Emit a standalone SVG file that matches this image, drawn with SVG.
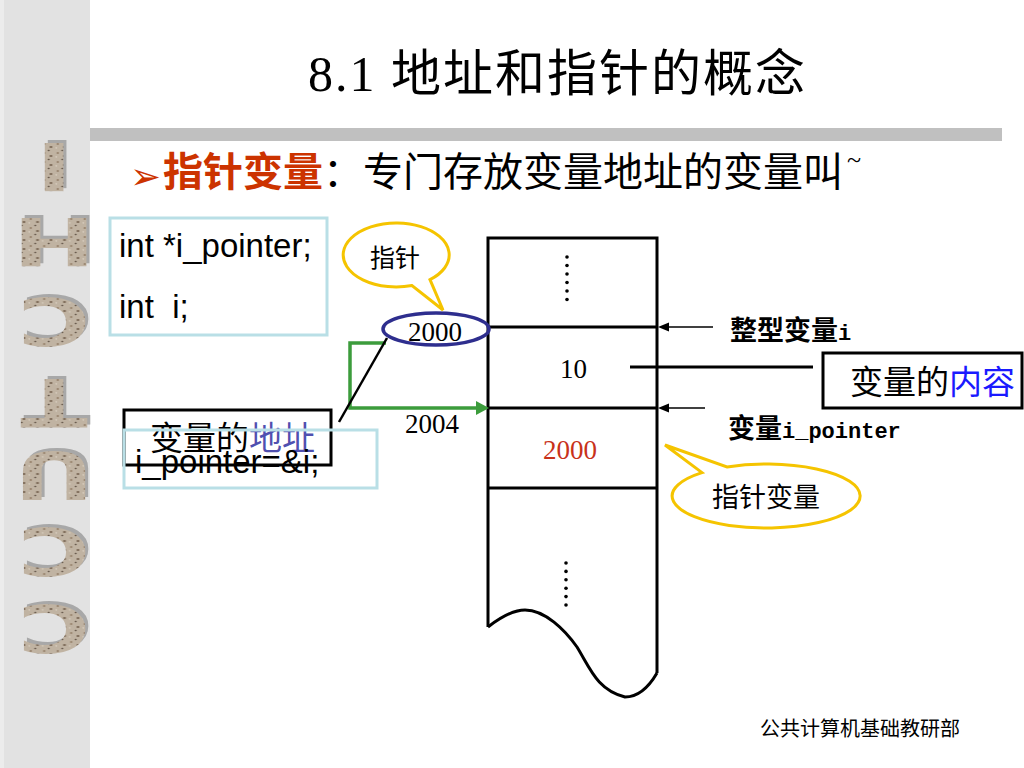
<svg xmlns="http://www.w3.org/2000/svg" width="1024" height="768" viewBox="0 0 1024 768">
<defs>
<style>
.serif{font-family:"Liberation Serif","Noto Sans CJK SC",serif}
.cjk{font-family:"Noto Sans CJK SC",sans-serif}
.sans{font-family:"Liberation Sans","Noto Sans CJK SC",sans-serif}
.mono{font-family:"Liberation Mono","Noto Sans CJK SC",monospace;font-weight:bold}
.side{font-family:"DejaVu Sans","Liberation Sans",sans-serif;font-weight:bold;font-size:66px;text-anchor:middle}
.blk{fill:none;stroke:#000;stroke-width:3}
.lblue{fill:none;stroke:#b9dfe6;stroke-width:3}
.callout{fill:#fff;stroke:#f5c400;stroke-width:3}
.dot{fill:#000}
</style>
<pattern id="stone" width="9" height="9" patternUnits="userSpaceOnUse">
<rect width="9" height="9" fill="#c0b3a2"/>
<circle cx="2" cy="2" r="1.1" fill="#7d6a58"/>
<circle cx="6.5" cy="5" r="0.9" fill="#9a8670"/>
<circle cx="3.5" cy="7.5" r="0.7" fill="#5f5144"/>
<circle cx="7.5" cy="1" r="0.6" fill="#e4dccf"/>
</pattern>
</defs>
<rect width="1024" height="768" fill="#fff"/>
<g id="sidebar">
<rect x="0" y="0" width="90" height="768" fill="#e2e2e2"/>
<rect x="0" y="0" width="4" height="768" fill="#ececec"/>
<g fill="#a8a8a8">
<text class="side" transform="translate(57,164) rotate(180) scale(1.5,1)" x="0" y="23.6">I</text>
<text class="side" transform="translate(57,239) rotate(180) scale(1.5,1)" x="0" y="23.6">H</text>
<text class="side" transform="translate(57,319) rotate(180) scale(1.5,1)" x="0" y="23.6">C</text>
<text class="side" transform="translate(57,400) rotate(180) scale(1.5,1)" x="0" y="23.6">T</text>
<text class="side" transform="translate(57,473) rotate(180) scale(1.5,1)" x="0" y="23.6">U</text>
<text class="side" transform="translate(57,549) rotate(180) scale(1.5,1)" x="0" y="23.6">C</text>
<text class="side" transform="translate(57,626) rotate(180) scale(1.5,1)" x="0" y="23.6">C</text>
</g>
<g fill="url(#stone)">
<text class="side" transform="translate(54,167) rotate(180) scale(1.5,1)" x="0" y="23.6">I</text>
<text class="side" transform="translate(54,242) rotate(180) scale(1.5,1)" x="0" y="23.6">H</text>
<text class="side" transform="translate(54,322) rotate(180) scale(1.5,1)" x="0" y="23.6">C</text>
<text class="side" transform="translate(54,403) rotate(180) scale(1.5,1)" x="0" y="23.6">T</text>
<text class="side" transform="translate(54,476) rotate(180) scale(1.5,1)" x="0" y="23.6">U</text>
<text class="side" transform="translate(54,552) rotate(180) scale(1.5,1)" x="0" y="23.6">C</text>
<text class="side" transform="translate(54,629) rotate(180) scale(1.5,1)" x="0" y="23.6">C</text>
</g>
</g>
<g id="header">
<text class="serif" x="308" y="91" font-size="50" letter-spacing="2" fill="#000">8.1 地址和指针的概念</text>
<rect x="90" y="128" width="912" height="13" fill="#c0c0c0"/>
</g>
<g id="bullet">
<text x="130" y="189" font-family="'DejaVu Sans',sans-serif" font-size="37" font-weight="bold" fill="#cc3300">➢</text>
<text class="cjk" x="163" y="186" font-size="40" font-weight="bold" fill="#cc3300">指针变量</text>
<text class="cjk" x="323" y="186" font-size="40" fill="#000">：专门存放变量地址的变量叫</text>
<text class="serif" x="847" y="168" font-size="26" fill="#000">~</text>
</g>
<g id="code-decl">
<rect class="lblue" x="110" y="218" width="217" height="117"/>
<text class="sans" x="119" y="257" font-size="33" fill="#000">int *i_pointer;</text>
<text class="sans" x="119" y="318" font-size="33" fill="#000" xml:space="preserve">int  i;</text>
</g>
<g id="addr-label">
<rect class="blk" x="124" y="410" width="207" height="55"/>
<text class="cjk" x="150" y="450" font-size="33" fill="#000">变量的<tspan fill="#5050b0">地址</tspan></text>
</g>
<g id="code-assign">
<rect class="lblue" x="124" y="430" width="253" height="58"/>
<text class="sans" x="135" y="473" font-size="33" fill="#000">i_pointer=&amp;i;</text>
</g>
<g id="memory">
<path class="blk" d="M488 627 V238 H657 V673"/>
<path class="blk" d="M488 627 Q510 610 525 610 C545 610 565 630 577 647 C590 668 597 690 625 697 C640 697 650 685 657 673"/>
<line class="blk" x1="488" y1="327" x2="657" y2="327"/>
<line class="blk" x1="488" y1="408" x2="657" y2="408"/>
<line class="blk" x1="488" y1="488" x2="657" y2="488"/>
<g class="dot">
<circle cx="567" cy="257" r="1.8"/><circle cx="567" cy="265.5" r="1.8"/><circle cx="567" cy="274" r="1.8"/>
<circle cx="567" cy="282.5" r="1.8"/><circle cx="567" cy="291" r="1.8"/><circle cx="567" cy="299.5" r="1.8"/>
<circle cx="566" cy="563" r="1.8"/><circle cx="566" cy="571.4" r="1.8"/><circle cx="566" cy="579.8" r="1.8"/>
<circle cx="566" cy="588.2" r="1.8"/><circle cx="566" cy="596.6" r="1.8"/><circle cx="566" cy="605" r="1.8"/>
</g>
<text class="serif" x="560" y="378" font-size="27" fill="#000">10</text>
<text class="serif" x="543" y="459" font-size="27" fill="#c8321a">2000</text>
</g>
<g id="connectors">
<path d="M386 343 H350 V408 H478" fill="none" stroke="#3c9c3c" stroke-width="3.5"/>
<path d="M476 401 L489 408 L476 415 Z" fill="#3c9c3c"/>
<line x1="339" y1="422" x2="387" y2="338" stroke="#000" stroke-width="2.5"/>
<line x1="713" y1="327" x2="666" y2="327" stroke="#000" stroke-width="1.5"/>
<path d="M658 327 L669 322.5 L669 331.5 Z" fill="#000"/>
<line x1="705" y1="408" x2="666" y2="408" stroke="#000" stroke-width="1.5"/>
<path d="M658 408 L669 403.5 L669 412.5 Z" fill="#000"/>
<line x1="630" y1="367" x2="813" y2="367" stroke="#000" stroke-width="3"/>
</g>
<g id="addr-2004">
<text class="serif" x="405" y="433" font-size="27" fill="#000">2004</text>
</g>
<g id="addr-2000">
<ellipse cx="436" cy="329" rx="53" ry="16" fill="none" stroke="#2e2e8e" stroke-width="3.5"/>
<text class="serif" x="408" y="341" font-size="27" fill="#000">2000</text>
</g>
<g id="callout-pointer">
<path class="callout" d="M430 279.6 A53 32 0 1 0 412 285.5 L443 310 Z"/>
<text class="cjk" x="395" y="267" font-size="25" text-anchor="middle" fill="#000">指针</text>
</g>
<g id="label-int-i">
<text class="mono" x="730" y="340" font-size="27" fill="#000">整型变量<tspan font-size="22">i</tspan></text>
</g>
<g id="label-pointer">
<text class="mono" x="728" y="438" font-size="27" fill="#000">变量<tspan font-size="22">i_pointer</tspan></text>
</g>
<g id="content-label">
<rect class="blk" x="823" y="353" width="199" height="55" fill="#fff"/>
<text class="cjk" x="850" y="394" font-size="33" fill="#000">变量的<tspan fill="#1a1aff">内容</tspan></text>
</g>
<g id="callout-pvar">
<path class="callout" d="M727 466.9 A94 32 0 1 1 702 472.6 L665 445 Z"/>
<text class="cjk" x="712" y="507" font-size="27" fill="#000">指针变量</text>
</g>
<g id="footer">
<text class="cjk" x="760" y="736" font-size="20" fill="#000">公共计算机基础教研部</text>
</g>
</svg>
